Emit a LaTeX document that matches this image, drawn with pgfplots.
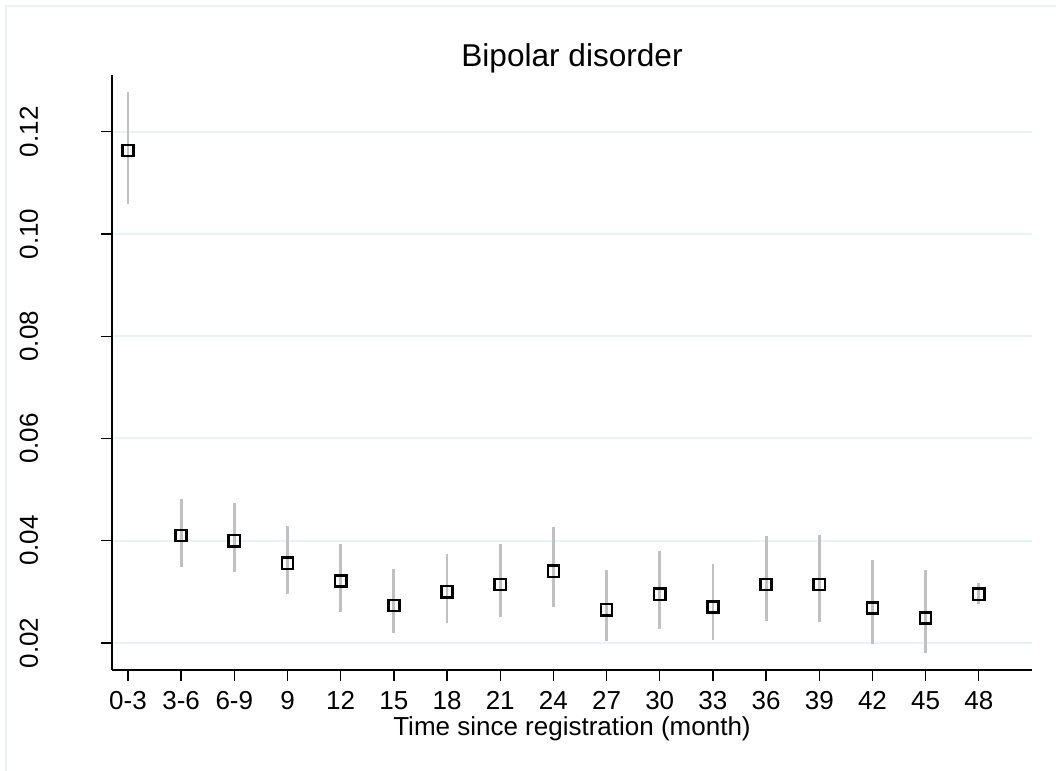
\documentclass[border=0pt]{standalone}
\usepackage{fontspec}
\setmainfont{Liberation Sans}
\usepackage{pgfplots}
\usepackage{pgfplotstable}
\pgfplotsset{compat=1.18}

\definecolor{gridc}{RGB}{234,242,243}
\definecolor{cigray}{RGB}{192,192,192}

% estimate with lower and upper confidence limits per period
\pgfplotstableread{
x  y      lo     hi
0  0.1163 0.1059 0.1278
1  0.0410 0.0348 0.0481
2  0.0400 0.0338 0.0473
3  0.0356 0.0295 0.0428
4  0.0321 0.0261 0.0393
5  0.0273 0.0219 0.0344
6  0.0300 0.0239 0.0374
7  0.0314 0.0251 0.0394
8  0.0340 0.0271 0.0426
9  0.0265 0.0203 0.0343
10 0.0295 0.0228 0.0380
11 0.0270 0.0205 0.0355
12 0.0314 0.0242 0.0410
13 0.0314 0.0240 0.0412
14 0.0268 0.0198 0.0362
15 0.0249 0.0181 0.0343
16 0.0295 0.0276 0.0318
}\ratetable

\begin{document}
\begin{tikzpicture}
\path[use as bounding box] (-56pt,-50.5pt) rectangle (472pt,335pt);
\draw[gridc, line width=1pt] (-52.85pt,-50.5pt) -- (-52.85pt,332pt) -- (472pt,332pt);
\begin{axis}[
  at={(0,0)}, anchor=south west,
  scale only axis,
  width=460pt, height=297.5pt,
  xmin=-0.3, xmax=17,
  ymin=0.0147, ymax=0.1311,
  axis x line*=bottom, axis y line*=left,
  axis line style={-, line width=0.65pt},
  tick align=outside,
  major tick length=5.5pt,
  tick style={black, line width=0.65pt},
  xtick={0,...,16},
  xticklabels={0-3,3-6,6-9,9,12,15,18,21,24,27,30,33,36,39,42,45,48},
  ytick={0.02,0.04,0.06,0.08,0.10,0.12},
  /pgf/number format/fixed,
  /pgf/number format/fixed zerofill,
  /pgf/number format/precision=2,
  /pgf/number format/assume math mode=true,
  ticklabel style={font=\fontsize{13}{15}\selectfont},
  yticklabel style={xshift=-31.5pt, rotate=90, anchor=base},
  xticklabel style={anchor=base, yshift=-14.5pt},
  ymajorgrids,
  major grid style={gridc, line width=1pt},
  title={Bipolar disorder},
  title style={font=\fontsize{15.8}{18}\selectfont, at={(axis description cs:0.5,1)}, anchor=base, yshift=-2pt},
  xlabel={Time since registration (month)},
  xlabel style={font=\fontsize{13}{15}\selectfont, at={(axis description cs:0.5,0)}, anchor=base, yshift=-33pt},
  clip=false,
]
\addplot[draw=none, mark=none,
  error bars/.cd, y dir=both, y explicit,
  error mark=none,
  error bar style={cigray, line width=1.4pt}]
  table[x=x, y=y, y error plus expr=\thisrow{hi}-\thisrow{y}, y error minus expr=\thisrow{y}-\thisrow{lo}] {\ratetable};
\addplot[only marks, mark=square, mark size=2.8pt, mark options={black, line width=1.25pt, fill=none}]
  table[x=x, y=y] {\ratetable};
\end{axis}
\end{tikzpicture}
\end{document}
